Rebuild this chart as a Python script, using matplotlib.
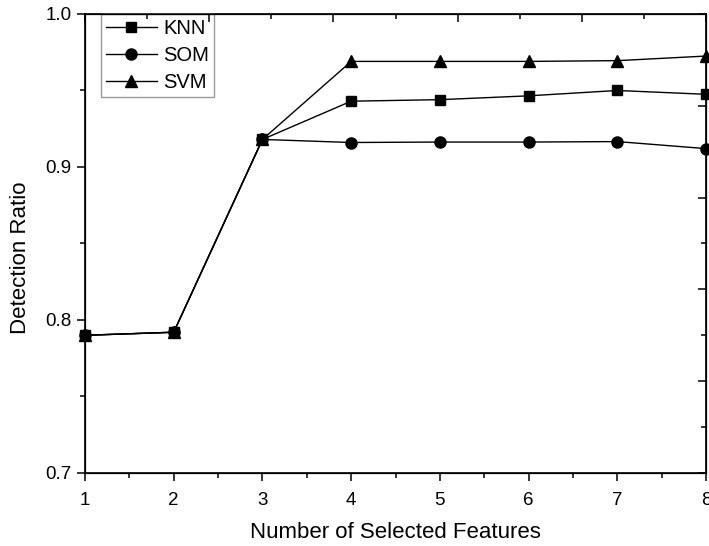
import matplotlib
matplotlib.use('Agg')
import matplotlib.pyplot as plt
from matplotlib.ticker import MultipleLocator, NullFormatter, FormatStrFormatter

plt.rcParams['font.family'] = ['Liberation Sans', 'DejaVu Sans']

features = [1, 2, 3, 4, 5, 6, 7, 8]
knn = [0.790, 0.792, 0.918, 0.943, 0.944, 0.9465, 0.950, 0.9475]
som = [0.790, 0.792, 0.918, 0.916, 0.9163, 0.9163, 0.9166, 0.912]
svm = [0.790, 0.792, 0.918, 0.969, 0.969, 0.969, 0.9695, 0.9725]

fig = plt.figure(figsize=(7.09, 5.46), dpi=100)
ax = fig.add_axes([0.1199, 0.1337, 0.8759, 0.8407])

ax.plot(features, knn, color='black', lw=1.0, marker='s', ms=7, label='KNN', clip_on=False, zorder=3)
ax.plot(features, som, color='black', lw=1.0, marker='o', ms=8, label='SOM', clip_on=False, zorder=3)
ax.plot(features, svm, color='black', lw=1.0, marker='^', ms=8, label='SVM', clip_on=False, zorder=3)

ax.set_xlim(1, 8)
ax.set_ylim(0.7, 1.0)
ax.xaxis.set_major_locator(MultipleLocator(1))
ax.xaxis.set_minor_locator(MultipleLocator(0.5))
ax.yaxis.set_major_locator(MultipleLocator(0.1))
ax.yaxis.set_minor_locator(MultipleLocator(0.05))
ax.yaxis.set_major_formatter(FormatStrFormatter('%.1f'))
ax.tick_params(which='major', direction='out', length=6, width=1.1, labelsize=13.5, colors='black')
ax.tick_params(which='minor', direction='out', length=3.5, width=1.1)
ax.tick_params(axis='x', pad=8)
for s in ax.spines.values():
    s.set_linewidth(1.2)

ax.set_xlabel('Number of Selected Features', fontsize=16, va='center')
ax.xaxis.set_label_coords(0.5, -0.13)
ax.set_ylabel('Detection Ratio', fontsize=16, va='center')
ax.yaxis.set_label_coords(-0.104, 0.468)

# top and right spines carry their own inward ticks
top = ax.twiny()
top.set_xlim(0, 5)
top.xaxis.set_major_locator(MultipleLocator(1))
top.xaxis.set_minor_locator(MultipleLocator(0.5))
top.xaxis.set_major_formatter(NullFormatter())
top.tick_params(which='major', direction='in', length=6, width=1.1)
top.tick_params(which='minor', direction='in', length=3.5, width=1.1)

right = ax.twinx()
right.set_ylim(0, 5)
right.yaxis.set_major_locator(MultipleLocator(1))
right.yaxis.set_minor_locator(MultipleLocator(0.5))
right.yaxis.set_major_formatter(NullFormatter())
right.tick_params(which='major', direction='in', length=6, width=1.1)
right.tick_params(which='minor', direction='in', length=3.5, width=1.1)

leg = ax.legend(loc='upper left', bbox_to_anchor=(0.026, 1.0), fontsize=14.5, fancybox=False,
                edgecolor='#999999', framealpha=1, handlelength=2.5, borderpad=0.25,
                labelspacing=0.4, handletextpad=0.33, borderaxespad=0)
leg.get_frame().set_linewidth(1.0)
leg.set_zorder(5)

fig.savefig('out.png', dpi=100)
